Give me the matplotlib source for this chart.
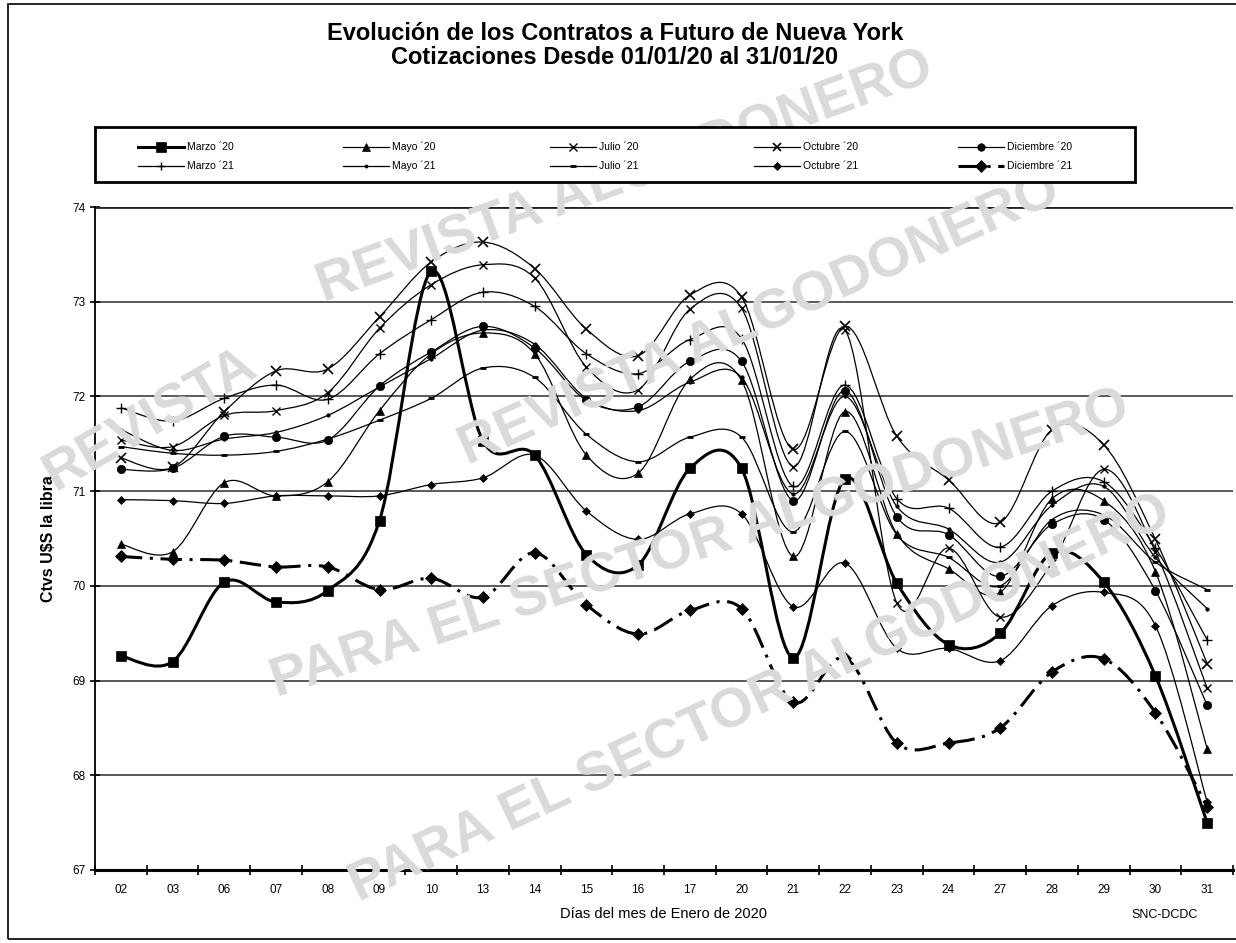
import numpy as np
import matplotlib
matplotlib.use("Agg")
import matplotlib.pyplot as plt
from matplotlib.path import Path
from matplotlib.patches import PathPatch, Rectangle
from matplotlib.lines import Line2D

plt.rcParams['font.family'] = ['Liberation Sans', 'DejaVu Sans']

days = ["02", "03", "06", "07", "08", "09", "10", "13", "14", "15", "16",
        "17", "20", "21", "22", "23", "24", "27", "28", "29", "30", "31"]

marzo_20 = [69.26, 69.20, 70.04, 69.83, 69.95, 70.69, 73.32, 71.53, 71.38, 70.33, 70.22,
            71.24, 71.24, 69.24, 71.13, 70.03, 69.38, 69.50, 70.35, 70.04, 69.05, 67.50]
mayo_20 = [70.44, 70.36, 71.09, 70.95, 71.10, 71.85, 72.45, 72.67, 72.45, 71.38, 71.19,
           72.18, 72.17, 70.31, 71.84, 70.55, 70.18, 69.93, 70.92, 70.90, 70.15, 68.28]
julio_20 = [71.54, 71.47, 71.80, 71.85, 72.04, 72.72, 73.18, 73.39, 73.25, 72.31, 72.07,
            72.92, 72.93, 71.26, 72.70, 69.82, 70.40, 69.67, 70.24, 71.23, 70.36, 68.92]
octubre_20 = [71.35, 71.25, 71.84, 72.27, 72.29, 72.84, 73.42, 73.63, 73.35, 72.71, 72.43,
              73.07, 73.05, 71.44, 72.74, 71.58, 71.12, 70.67, 71.65, 71.49, 70.49, 69.18]
diciembre_20 = [71.23, 71.24, 71.58, 71.57, 71.54, 72.11, 72.47, 72.74, 72.51, 71.96, 71.89,
                72.37, 72.37, 70.90, 72.06, 70.73, 70.54, 70.10, 70.65, 70.70, 69.95, 68.74]
marzo_21 = [71.88, 71.74, 71.98, 72.12, 71.97, 72.45, 72.81, 73.10, 72.95, 72.45, 72.24,
            72.60, 72.61, 71.05, 72.12, 70.92, 70.82, 70.41, 71.00, 71.10, 70.40, 69.43]
mayo_21 = [71.65, 71.43, 71.55, 71.62, 71.80, 72.10, 72.40, 72.70, 72.55, 71.98, 71.85,
           72.15, 72.20, 70.97, 72.00, 70.84, 70.60, 70.25, 70.85, 71.05, 70.30, 69.76]
julio_21 = [71.47, 71.40, 71.38, 71.42, 71.55, 71.75, 71.98, 72.30, 72.20, 71.60, 71.31,
            71.57, 71.57, 70.57, 71.63, 70.54, 70.30, 70.00, 70.70, 70.75, 70.25, 69.96]
octubre_21 = [70.91, 70.90, 70.87, 70.95, 70.95, 70.95, 71.07, 71.14, 71.38, 70.79, 70.49,
              70.76, 70.76, 69.78, 70.24, 69.34, 69.34, 69.21, 69.79, 69.93, 69.58, 67.72]
diciembre_21 = [70.31, 70.28, 70.27, 70.20, 70.20, 69.96, 70.08, 69.88, 70.35, 69.80, 69.49,
                69.74, 69.76, 68.77, 69.24, 68.34, 68.34, 68.50, 69.09, 69.23, 68.66, 67.67]

series_names = ["Marzo ´20", "Mayo ´20", "Julio ´20", "Octubre ´20", "Diciembre ´20",
                "Marzo ´21", "Mayo ´21", "Julio ´21", "Octubre ´21", "Diciembre ´21"]
series_values = [marzo_20, mayo_20, julio_20, octubre_20, diciembre_20,
                 marzo_21, mayo_21, julio_21, octubre_21, diciembre_21]

dashdot = (0, (7, 2.5, 1, 2.5))
styles = [
    dict(lw=2.2, ls='-', marker='s', ms=7.5, mew=0.5),
    dict(lw=0.9, ls='-', marker='^', ms=6, mew=0.5),
    dict(lw=0.9, ls='-', marker='x', ms=6, mew=1.0),
    dict(lw=0.9, ls='-', marker='x', ms=7, mew=1.2),
    dict(lw=0.9, ls='-', marker='o', ms=6, mew=0.5),
    dict(lw=0.9, ls='-', marker='+', ms=7, mew=1.0),
    dict(lw=0.9, ls='-', marker='o', ms=2.5, mew=0.5),
    dict(lw=0.9, ls='-', marker='_', ms=5, mew=2.0),
    dict(lw=0.9, ls='-', marker='D', ms=4.5, mew=0.5),
    dict(lw=2.2, ls=dashdot, marker='D', ms=6.5, mew=0.5),
]


def smooth_path(xs, ys):
    pts = np.column_stack([xs, ys]).astype(float)
    n = len(pts)
    verts = [pts[0]]
    codes = [Path.MOVETO]
    for i in range(n - 1):
        p0 = pts[i - 1] if i > 0 else pts[i]
        p1 = pts[i]
        p2 = pts[i + 1]
        p3 = pts[i + 2] if i + 2 < n else pts[i + 1]
        c1 = p1 + (p2 - p0) / 6.0
        c2 = p2 - (p3 - p1) / 6.0
        verts += [c1, c2, p2]
        codes += [Path.CURVE4] * 3
    return Path(verts, codes)


W, H = 1236, 943
fig = plt.figure(figsize=(W / 100, H / 100), dpi=100)
fig.patch.set_facecolor('white')

# outer frame
fig.add_artist(Rectangle((8 / W, 4 / H), 1.2, (H - 8) / H, transform=fig.transFigure,
                         fill=False, lw=1.2, ec='black', zorder=0))

ax = fig.add_axes([95 / W, 1 - 870 / H, 1138 / W, (870 - 207) / H])
ax.set_facecolor('none')

# watermark
wm = dict(color='#dadada', fontsize=40, fontweight='bold', ha='center', va='center',
          transform=fig.transFigure, zorder=0.2)
fig.text(625 / W, 1 - 178 / H, "REVISTA ALGODONERO", rotation=20, **wm)
fig.text(150 / W, 1 - 420 / H, "REVISTA", rotation=30, **wm)
fig.text(760 / W, 1 - 320 / H, "REVISTA ALGODONERO", rotation=24, **wm)
fig.text(700 / W, 1 - 545 / H, "PARA EL SECTOR ALGODONERO", rotation=18, **wm)
fig.text(760 / W, 1 - 700 / H, "PARA EL SECTOR ALGODONERO", rotation=25, **wm)

x = np.arange(len(days))
for vals, st in zip(series_values, styles):
    patch = PathPatch(smooth_path(x, vals), fill=False, lw=st['lw'], ls=st['ls'],
                      ec='black', zorder=3, capstyle='butt')
    ax.add_patch(patch)
    ax.plot(x, vals, ls='none', marker=st['marker'], ms=st['ms'], mew=st['mew'],
            mfc='black', mec='black', zorder=4, clip_on=False)

ax.set_xlim(-0.5, len(days) - 0.5)
ax.set_ylim(67, 74)
ax.set_yticks(np.arange(67, 75, 1))
ax.set_yticklabels([str(v) for v in range(67, 75)], fontsize=8.5)
ax.yaxis.grid(True, color='#5a5a5a', lw=1.4)
ax.set_axisbelow(True)
ax.axhline(74, color='#222222', lw=2.0, zorder=2)

ax.set_xticks(x)
ax.set_xticklabels(days, fontsize=8.5)
ax.set_xticks(np.arange(-0.5, len(days), 1), minor=True)
ax.tick_params(axis='x', which='major', length=0, pad=10)
ax.tick_params(axis='x', which='minor', length=7, width=1.2, direction='inout')
ax.tick_params(axis='y', which='major', length=7, width=1.2, direction='inout', pad=3)

for s in ['top', 'right']:
    ax.spines[s].set_visible(False)
ax.spines['left'].set_linewidth(1.3)
ax.spines['bottom'].set_linewidth(2.2)

ax.set_ylabel("Ctvs U$S la libra", fontsize=11.5, fontweight='bold', labelpad=12)
ax.set_xlabel("Días del mes de Enero de 2020", fontsize=10.5, labelpad=8)
fig.text(1165 / W, 1 - 915 / H, "SNC-DCDC", fontsize=9, ha='center', va='center')

# title
fig.text(615 / W, 1 - 33 / H, "Evolución de los Contratos a Futuro de Nueva York",
         fontsize=17, fontweight='bold', ha='center', va='center')
fig.text(615 / W, 1 - 58 / H, "Cotizaciones Desde 01/01/20 al 31/01/20",
         fontsize=17, fontweight='bold', ha='center', va='center')

# legend box (manual layout)
fig.add_artist(Rectangle((95 / W, 1 - 182 / H), (1135 - 95) / W, (182 - 127) / H,
                         transform=fig.transFigure, fill=True, fc='white',
                         lw=2.0, ec='black', zorder=5))
col_x = [138, 343, 550, 754, 958]
row_y = [147, 166]
for i, (name, st) in enumerate(zip(series_names, styles)):
    r, c = divmod(i, 5)
    x0 = col_x[c] / W
    x1 = (col_x[c] + 46) / W
    yy = 1 - row_y[r] / H
    ln = Line2D([x0, (x0 + x1) / 2, x1], [yy, yy, yy], transform=fig.transFigure,
                color='black', lw=st['lw'], ls=st['ls'], marker=st['marker'],
                ms=st['ms'] * 0.9, mew=st['mew'], mfc='black', mec='black',
                markevery=[1], zorder=6)
    fig.add_artist(ln)
    fig.text(x1 + 3 / W, yy, name, fontsize=7.5, ha='left', va='center', zorder=6)

fig.savefig("out.png", dpi=100, facecolor='white')
